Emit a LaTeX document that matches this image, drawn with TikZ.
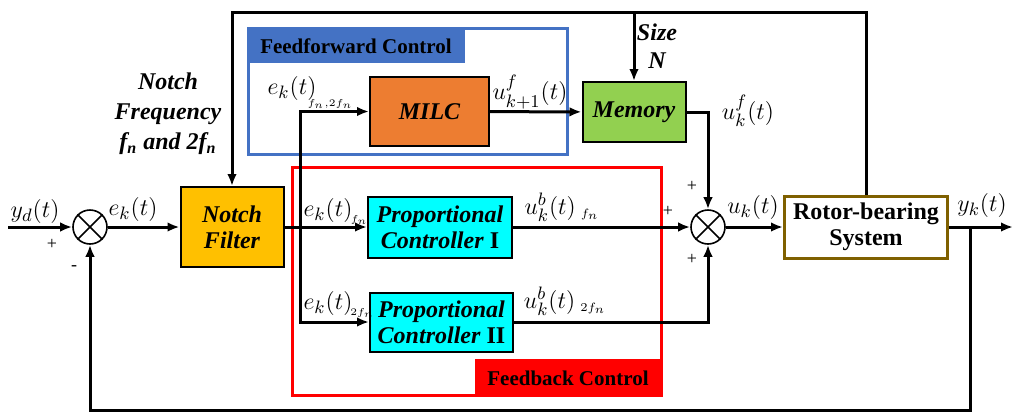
\documentclass[tikz,border=0pt]{standalone}
\usepackage{fontspec}
\setmainfont{Liberation Serif}
\usepackage{tikz}
\usetikzlibrary{arrows.meta}
\definecolor{notchorange}{HTML}{FFC000}
\definecolor{milcorange}{HTML}{ED7D31}
\definecolor{memgreen}{HTML}{92D050}
\definecolor{pccyan}{HTML}{00FFFF}
\definecolor{rotorbrown}{HTML}{7F6000}
\definecolor{ffblue}{HTML}{4472C4}
\definecolor{fbred}{HTML}{FF0000}

\begin{document}
\begin{tikzpicture}[x=0.5pt, y=-0.5pt, >={Latex[length=6pt,width=4.8pt]},
  line width=1.5pt,
  blk/.style={draw, line width=1pt, inner sep=1pt, align=center,
    font=\fontsize{12}{13}\selectfont\bfseries\itshape},
  sumnode/.style={draw, circle, line width=0.8pt, minimum size=17pt, inner sep=0pt},
  lbl/.style={font=\fontsize{12.5}{13.5}\selectfont, inner sep=0pt},
  sub/.style={font=\fontsize{9}{10}\selectfont, inner sep=0pt},
  sgn/.style={font=\fontsize{9}{10}\selectfont, inner sep=0pt},
  ttl/.style={font=\fontsize{10.5}{11.5}\selectfont\bfseries, inner sep=0pt}]
  \useasboundingbox (0,0) rectangle (1014,419);
  % === Ramecky ===
  \draw[ffblue, line width=1.5pt] (248,28) rectangle (567,154);
  \fill[ffblue] (248,28) rectangle (465,63);
  \node[ttl] (fftitle) at (356,46) {Feedforward Control};
  \draw[fbred, line width=1.5pt] (292,167) rectangle (661,395);
  \fill[fbred] (475,359) rectangle (661,395);
  \node[ttl] (fbtitle) at (568,378) {Feedback Control};
  % === Bloky ===
  \node[blk, fill=notchorange, minimum width=51.5pt, minimum height=40pt] (notch) at (232,227) {Notch\\Filter};
  \node[blk, fill=milcorange, minimum width=59.5pt, minimum height=34.5pt] (milc) at (429.5,111.5) {MILC};
  \node[blk, fill=memgreen, minimum width=51.5pt, minimum height=30pt] (memory) at (634,112) {Memory};
  \node[blk, fill=pccyan, minimum width=72pt, minimum height=30.5pt] (pc1) at (440,227) {Proportional\\Controller \textup{I}};
  \node[blk, fill=pccyan, minimum width=71.5pt, minimum height=29.5pt] (pc2) at (441.5,322) {Proportional\\Controller \textup{II}};
  \node[blk, draw=rotorbrown, line width=1.5pt, minimum width=81.5pt, minimum height=31pt,
    font=\fontsize{12}{13}\selectfont\bfseries] (rotor) at (866,227) {Rotor-bearing\\System};
  % === Scitacky ===
  \node[sumnode] (sum1) at (90,227) {};
  \draw[line width=0.8pt] (sum1.north west) -- (sum1.south east) (sum1.north east) -- (sum1.south west);
  \node[sumnode] (sum2) at (708,227) {};
  \draw[line width=0.8pt] (sum2.north west) -- (sum2.south east) (sum2.north east) -- (sum2.south west);
  % === Pomocne body ===
  \coordinate (in) at (8,227);
  \coordinate (out) at (1013,227);
  \coordinate (tap) at (970,227);
  \coordinate (fbc) at (970,410);
  \coordinate (br) at (300,227);
  \coordinate (topl) at (232,12);
  % === Spoje ===
  \draw[->] (in) -- (sum1);
  \draw[->] (sum1) -- (notch);
  \draw[->] (notch) -- (pc1);
  \draw[->] (br) |- (milc);
  \draw[->] (br) |- (pc2);
  \draw[->] (milc) -- (memory);
  \draw[->] (memory) -| (sum2);
  \draw[->] (pc1) -- (sum2);
  \draw[->] (pc2) -| (sum2);
  \draw[->] (sum2) -- (rotor);
  \draw[->] (rotor) -- (out);
  \draw[->] (tap) -- (fbc) -| (sum1);
  \draw[->] (rotor.north) |- (topl) -- (notch);
  \draw[->] (memory.north |- topl) -- (memory);
  % === Popisky ===
  \node[lbl] (yd) at (35,211) {$y_d(t)$};
  \node[sgn] (p1) at (52,244) {+};
  \node[sgn] (m1) at (74,268) {-};
  \node[lbl] (ek0) at (133,209) {$e_k(t)$};
  \node[lbl, align=center, font=\fontsize{12}{15}\selectfont\bfseries\itshape] (nfreq) at (168,114)
    {Notch\\Frequency\\f\textsubscript{n} and 2f\textsubscript{n}};
  \node[lbl, align=center, font=\fontsize{12}{14}\selectfont\bfseries\itshape] (size) at (657,46) {Size\\N};
  \node[lbl] (ekff) at (292,88) {$e_k(t)$};
  \node[sub] (ekffs) at (330,104) {$\scriptscriptstyle f_n,2f_n$};
  \node[lbl] (uf1) at (530,92) {$u^{f}_{k+1}(t)$};
  \node[lbl] (ufk) at (748,111) {$u^{f}_{k}(t)$};
  \node[lbl] (ek1) at (328,210) {$e_k(t)$};
  \node[sub] (ek1s) at (359,220) {$\scriptscriptstyle f_n$};
  \node[lbl] (ek2) at (328,303) {$e_k(t)$};
  \node[sub] (ek2s) at (362,313) {$\scriptscriptstyle 2f_n$};
  \node[lbl] (ub1) at (562,207) {$u^{b}_{k}(t)_{\;\scriptscriptstyle f_n}$};
  \node[lbl] (ub2) at (565,301) {$u^{b}_{k}(t)_{\;\scriptscriptstyle 2f_n}$};
  \node[sgn] (p2) at (668,211) {+};
  \node[sgn] (p3) at (692,186) {+};
  \node[sgn] (p4) at (692,259) {+};
  \node[lbl] (uk) at (753,207) {$u_k(t)$};
  \node[lbl] (yk) at (982,205) {$y_k(t)$};
\end{tikzpicture}
\end{document}
